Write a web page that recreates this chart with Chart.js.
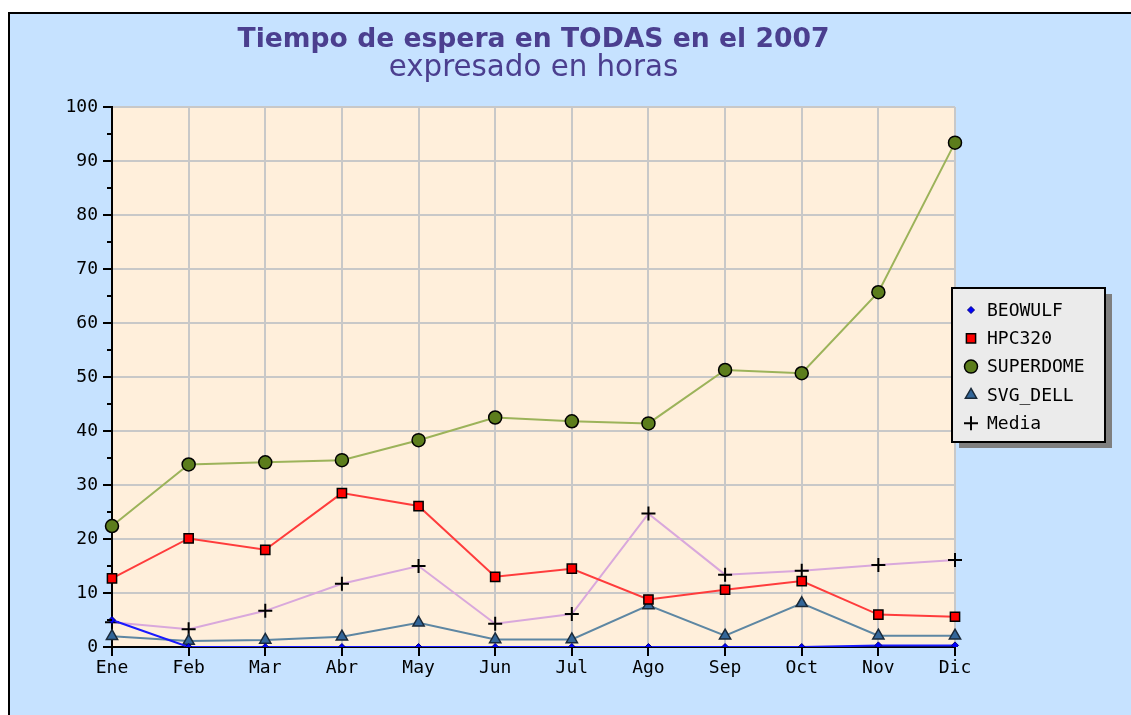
<!DOCTYPE html>
<html>
<head>
<meta charset="utf-8">
<script src="https://cdn.jsdelivr.net/npm/chart.js@4.4.1/dist/chart.umd.min.js"></script>
<style>
  html, body { margin: 0; padding: 0; background: #fff; }
</style>
</head>
<body>
<canvas id="grafico" width="1131" height="715"></canvas>
<script>
const meses = ['Ene', 'Feb', 'Mar', 'Abr', 'May', 'Jun', 'Jul', 'Ago', 'Sep', 'Oct', 'Nov', 'Dic']

const beowulf   = [5.0, 0, 0, 0, 0, 0, 0, 0, 0, 0, 0.3, 0.3]
const hpc320    = [12.7, 20.1, 18.0, 28.5, 26.1, 13.0, 14.5, 8.8, 10.6, 12.2, 6.0, 5.6]
const superdome = [22.4, 33.8, 34.2, 34.6, 38.3, 42.5, 41.8, 41.4, 51.3, 50.7, 65.7, 93.4]
const svgDell   = [2.0, 1.1, 1.3, 1.9, 4.5, 1.4, 1.4, 7.7, 2.1, 8.1, 2.1, 2.1]
const media     = [4.6, 3.3, 6.7, 11.7, 15.0, 4.3, 6.1, 24.7, 13.4, 14.1, 15.2, 16.1]

const titulo = 'Tiempo de espera en TODAS en el 2007'
const subtitulo = 'expresado en horas'

const fuenteEjes = '"DejaVu Sans Mono"'

// fondo azul, marco negro y zona del grafico
const fondo = {
  id: 'fondo',
  beforeDraw(chart) {
    const ctx = chart.ctx
    const a = chart.chartArea
    ctx.save()
    ctx.fillStyle = '#ffffff'
    ctx.fillRect(0, 0, chart.width, chart.height)
    ctx.fillStyle = '#c6e2ff'
    ctx.fillRect(9, 13, chart.width - 9, chart.height - 13)
    ctx.strokeStyle = '#000'
    ctx.lineWidth = 2
    ctx.beginPath()
    ctx.moveTo(9, chart.height)
    ctx.lineTo(9, 13)
    ctx.lineTo(chart.width, 13)
    ctx.stroke()
    ctx.fillStyle = '#ffefdb'
    ctx.fillRect(a.left, a.top, a.right - a.left, a.bottom - a.top)
    ctx.restore()
  }
}

// titulo y subtitulo centrados sobre el area
const textos = {
  id: 'textos',
  afterDraw(chart) {
    const ctx = chart.ctx
    const cx = (chart.chartArea.left + chart.chartArea.right) / 2
    ctx.save()
    ctx.fillStyle = '#4b3f8f'
    ctx.textAlign = 'center'
    ctx.textBaseline = 'alphabetic'
    let t = 26
    ctx.font = 'bold ' + t + 'px "DejaVu Sans"'
    t = t * 592 / ctx.measureText(titulo).width
    ctx.font = 'bold ' + t.toFixed(1) + 'px "DejaVu Sans"'
    ctx.fillText(titulo, cx, 47)
    let s = 24
    ctx.font = s + 'px "DejaVu Sans"'
    s = s * 290 / ctx.measureText(subtitulo).width
    ctx.font = s.toFixed(1) + 'px "DejaVu Sans"'
    ctx.fillText(subtitulo, cx, 76)
    ctx.restore()
  }
}

// marcas menores del eje y (cada 5)
const menores = {
  id: 'menores',
  afterDraw(chart) {
    const ctx = chart.ctx
    const y = chart.scales.y
    const left = chart.chartArea.left
    ctx.save()
    ctx.strokeStyle = '#000'
    ctx.lineWidth = 2
    for (let v = 5; v < 100; v += 10) {
      const py = Math.round(y.getPixelForValue(v))
      ctx.beginPath()
      ctx.moveTo(left - 5, py)
      ctx.lineTo(left, py)
      ctx.stroke()
    }
    ctx.restore()
  }
}

// leyenda en caja gris con sombra
const leyenda = {
  id: 'leyenda',
  afterDraw(chart) {
    const ctx = chart.ctx
    const x = 952, y = 288, w = 153, h = 154
    ctx.save()
    ctx.fillStyle = '#7f7f7f'
    ctx.fillRect(x + 7, y + 6, w, h)
    ctx.fillStyle = '#ebebeb'
    ctx.fillRect(x, y, w, h)
    ctx.strokeStyle = '#000'
    ctx.lineWidth = 2
    ctx.strokeRect(x, y, w, h)
    ctx.font = '18px ' + fuenteEjes
    ctx.textBaseline = 'middle'
    chart.data.datasets.forEach((ds, i) => {
      const py = 310 + i * 28.3
      ctx.fillStyle = ds.pointBackgroundColor
      ctx.strokeStyle = ds.pointBorderColor
      ctx.lineWidth = ds.pointBorderWidth
      Chart.helpers.drawPoint(ctx, {
        pointStyle: ds.pointStyle,
        rotation: 0,
        radius: ds.pointRadius,
        borderWidth: ds.pointBorderWidth
      }, 971, py)
      ctx.fillStyle = '#000'
      ctx.fillText(ds.label, 987, py + 1)
    })
    ctx.restore()
  }
}

const config = {
  type: 'line',
  data: {
    labels: meses,
    datasets: [
      {
        label: 'BEOWULF',
        data: beowulf,
        borderColor: '#1a1aff',
        borderWidth: 2,
        pointStyle: 'rectRot',
        pointRadius: 3.5,
        pointBackgroundColor: '#0000ff',
        pointBorderColor: '#000080',
        pointBorderWidth: 1
      },
      {
        label: 'HPC320',
        data: hpc320,
        borderColor: '#ff3c3c',
        borderWidth: 2,
        pointStyle: 'rect',
        pointRadius: 6.5,
        pointBackgroundColor: '#ff0000',
        pointBorderColor: '#000',
        pointBorderWidth: 1.5
      },
      {
        label: 'SUPERDOME',
        data: superdome,
        borderColor: '#9cb35a',
        borderWidth: 2,
        pointStyle: 'circle',
        pointRadius: 6.5,
        pointBackgroundColor: '#5c7d1c',
        pointBorderColor: '#000',
        pointBorderWidth: 1.5
      },
      {
        label: 'SVG_DELL',
        data: svgDell,
        borderColor: '#5e87a3',
        borderWidth: 2,
        pointStyle: 'triangle',
        pointRadius: 6.5,
        pointBackgroundColor: '#336699',
        pointBorderColor: '#1a2a3a',
        pointBorderWidth: 1.5
      },
      {
        label: 'Media',
        data: media,
        borderColor: '#d9a8dc',
        borderWidth: 2,
        pointStyle: 'cross',
        pointRadius: 7,
        pointBackgroundColor: '#000',
        pointBorderColor: '#000',
        pointBorderWidth: 2
      }
    ]
  },
  options: {
    responsive: false,
    animation: false,
    devicePixelRatio: 1,
    layout: { padding: { left: 0, top: 107, right: 176, bottom: 0 } },
    plugins: {
      legend: { display: false },
      title: { display: false },
      tooltip: { enabled: false }
    },
    elements: { line: { tension: 0 } },
    scales: {
      x: {
        offset: false,
        afterFit: s => { s.height = 68 },
        grid: { color: '#c8c8c8', lineWidth: 2, tickColor: '#000', tickLength: 9 },
        border: { color: '#000', width: 2 },
        ticks: { color: '#000', padding: 2, font: { family: 'DejaVu Sans Mono', size: 18 }, maxRotation: 0 }
      },
      y: {
        min: 0,
        max: 100,
        afterFit: s => { s.width = 112 },
        grid: { color: '#c8c8c8', lineWidth: 2, tickColor: '#000', tickLength: 9 },
        border: { color: '#000', width: 2 },
        ticks: { stepSize: 10, color: '#000', padding: 5, font: { family: 'DejaVu Sans Mono', size: 18 } }
      }
    }
  },
  plugins: [fondo, menores, leyenda, textos]
}

const miGrafico = new Chart(document.getElementById('grafico'), config)
</script>
</body>
</html>
